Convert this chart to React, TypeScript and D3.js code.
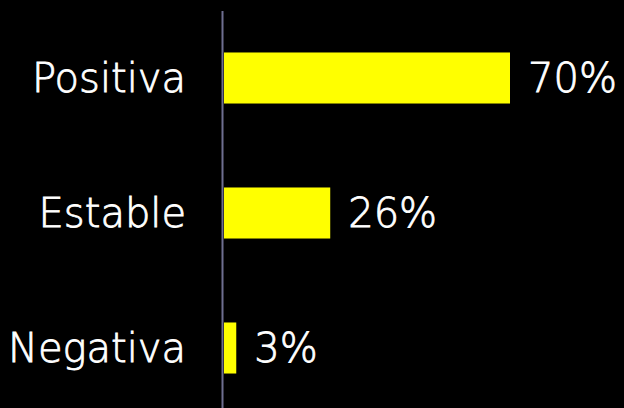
import React from "react";
import * as d3 from "d3";

const categories = ["Positiva", "Estable", "Negativa"];
const values = [70, 26, 3];
const valueLabels = ["70%", "26%", "3%"];

const W = 624;
const H = 408;

export default function App() {
  const x = d3.scaleLinear().domain([0, 70]).range([224, 510]);
  const y = d3
    .scaleBand<string>()
    .domain(categories)
    .range([10.5, 415.5])
    .paddingInner(0.622)
    .paddingOuter(0.311);
  const font = "'DejaVu Sans ExtraLight', 'DejaVu Sans', Verdana, sans-serif";
  const fs = 40;
  return (
    <svg
      width={W}
      height={H}
      style={{ position: "absolute", left: 0, top: 0, background: "#000" }}
    >
      <rect x={0} y={0} width={W} height={H} fill="#000" />
      <line x1={222.5} x2={222.5} y1={11} y2={H} stroke="#6e6e90" strokeWidth={2} />
      {categories.map((c, i) => {
        const yc = (y(c) as number) + y.bandwidth() / 2;
        return (
          <g key={c}>
            <rect
              x={x(0)}
              y={y(c)}
              width={x(values[i]) - x(0)}
              height={y.bandwidth()}
              fill="#ffff00"
            />
            <text
              x={186}
              y={yc}
              dy="0.36em"
              textAnchor="end"
              fill="#fff"
              stroke="#fff"
              strokeWidth={0.8}
              fontFamily={font}
              fontWeight={200}
              fontSize={fs}
            >
              {c}
            </text>
            <text
              x={x(values[i]) + 18}
              y={yc}
              dy="0.36em"
              textAnchor="start"
              fill="#fff"
              stroke="#fff"
              strokeWidth={0.8}
              fontFamily={font}
              fontWeight={200}
              fontSize={fs}
            >
              {valueLabels[i]}
            </text>
          </g>
        );
      })}
    </svg>
  );
}
